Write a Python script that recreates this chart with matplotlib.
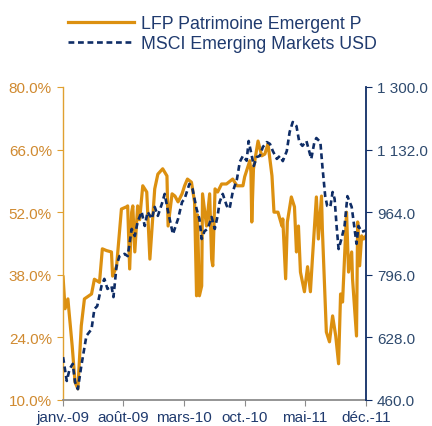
import matplotlib
matplotlib.use("Agg")
import matplotlib.pyplot as plt
import pandas as pd

plt.rcParams['font.family'] = ['Liberation Sans', 'DejaVu Sans']

# LFP Patrimoine Emergent P (left axis, %)
fund_dates = [
    "2009-01-01", "2009-01-08", "2009-01-18", "2009-01-21", "2009-02-02", "2009-02-12",
    "2009-02-22", "2009-03-06", "2009-03-17", "2009-04-11", "2009-04-21", "2009-05-09",
    "2009-05-19", "2009-06-03", "2009-06-20", "2009-06-24", "2009-07-08", "2009-07-25",
    "2009-08-12", "2009-08-16", "2009-08-23", "2009-08-30", "2009-09-03", "2009-09-10",
    "2009-09-20", "2009-09-27", "2009-10-08", "2009-10-22", "2009-11-02", "2009-11-19",
    "2009-11-30", "2009-12-17", "2010-01-01", "2010-01-05", "2010-01-19", "2010-01-29",
    "2010-02-09", "2010-02-23", "2010-03-04", "2010-03-14", "2010-03-28", "2010-04-08",
    "2010-04-15", "2010-04-18", "2010-04-25", "2010-05-03", "2010-05-06", "2010-05-20",
    "2010-05-31", "2010-06-07", "2010-06-11", "2010-06-19", "2010-06-28", "2010-07-12",
    "2010-07-29", "2010-08-20", "2010-09-04", "2010-09-25", "2010-10-01", "2010-10-19",
    "2010-10-23", "2010-10-26", "2010-11-01", "2010-11-17", "2010-11-30", "2010-12-11",
    "2010-12-22", "2011-01-05", "2011-01-12", "2011-01-26", "2011-02-09", "2011-02-12",
    "2011-02-22", "2011-02-28", "2011-03-14", "2011-03-25", "2011-04-01", "2011-04-08",
    "2011-04-15", "2011-04-29", "2011-05-10", "2011-05-20", "2011-05-27", "2011-06-10",
    "2011-06-17", "2011-06-28", "2011-07-01", "2011-07-15", "2011-07-26", "2011-08-06",
    "2011-08-17", "2011-08-27", "2011-09-03", "2011-09-10", "2011-09-24", "2011-10-01",
    "2011-10-12", "2011-10-15", "2011-10-29", "2011-11-02", "2011-11-09", "2011-11-16",
    "2011-11-23", "2011-12-01",
]
fund_values = [
    37.5, 30.4, 32.6, 30.4, 22.1, 14.0,
    12.5, 26.6, 32.6, 33.7, 37.0, 36.3,
    43.8, 43.4, 43.1, 37.7, 39.9, 52.7,
    53.2, 53.4, 39.3, 52.0, 53.4, 43.1,
    53.4, 50.3, 57.9, 56.5, 41.5, 57.2,
    60.5, 61.7, 60.1, 48.9, 56.1, 55.6,
    54.3, 56.1, 57.9, 59.4, 58.7, 54.3,
    33.3, 51.4, 33.3, 35.5, 56.1, 48.9,
    56.1, 41.5, 40.0, 57.2, 56.5, 58.3,
    58.3, 59.4, 57.9, 57.9, 59.9, 63.5,
    61.0, 49.8, 61.7, 67.9, 64.6, 65.0,
    67.3, 60.1, 52.0, 52.0, 48.9, 50.5,
    37.1, 49.8, 55.4, 53.2, 43.1, 48.9,
    38.6, 34.2, 39.8, 34.2, 41.5, 55.4,
    46.0, 55.6, 48.2, 25.2, 23.0, 28.8,
    24.3, 18.1, 33.7, 31.9, 52.0, 38.6,
    43.1, 37.1, 24.3, 49.8, 40.0, 46.7,
    46.0, 46.7,
]

# MSCI Emerging Markets USD (right axis)
index_dates = [
    "2009-01-01", "2009-01-14", "2009-01-24", "2009-02-04", "2009-02-12", "2009-02-22",
    "2009-03-06", "2009-03-24", "2009-04-11", "2009-04-21", "2009-05-01", "2009-05-16",
    "2009-05-26", "2009-06-06", "2009-06-20", "2009-06-27", "2009-07-08", "2009-07-18",
    "2009-08-05", "2009-08-16", "2009-08-30", "2009-09-10", "2009-09-20", "2009-10-04",
    "2009-10-15", "2009-10-25", "2009-11-09", "2009-11-19", "2009-11-30", "2009-12-14",
    "2009-12-24", "2010-01-05", "2010-01-22", "2010-02-09", "2010-02-23", "2010-03-04",
    "2010-03-21", "2010-04-01", "2010-04-15", "2010-04-25", "2010-05-03", "2010-05-13",
    "2010-05-24", "2010-06-07", "2010-06-18", "2010-06-28", "2010-07-05", "2010-07-16",
    "2010-07-30", "2010-08-09", "2010-08-20", "2010-09-04", "2010-09-14", "2010-09-25",
    "2010-10-08", "2010-10-15", "2010-10-26", "2010-11-02", "2010-11-13", "2010-11-23",
    "2010-12-04", "2010-12-18", "2010-12-29", "2011-01-08", "2011-01-22", "2011-02-02",
    "2011-02-12", "2011-02-26", "2011-03-08", "2011-03-19", "2011-04-01", "2011-04-11",
    "2011-04-22", "2011-05-06", "2011-05-23", "2011-06-03", "2011-06-10", "2011-06-24",
    "2011-07-01", "2011-07-11", "2011-07-18", "2011-07-29", "2011-08-06", "2011-08-13",
    "2011-08-20", "2011-08-27", "2011-09-06", "2011-09-17", "2011-09-27", "2011-10-12",
    "2011-10-19", "2011-10-29", "2011-11-05", "2011-11-16", "2011-12-01",
]
index_values = [
    575, 511, 543, 557, 508, 489,
    551, 632, 650, 704, 712, 766,
    785, 758, 766, 736, 820, 846,
    852, 846, 919, 900, 938, 965,
    927, 965, 946, 978, 954, 986,
    1013, 965, 905, 946, 991, 1000,
    1040, 1026, 973, 946, 892, 913,
    919, 951, 919, 954, 991, 1013,
    981, 973, 1018, 1053, 1099, 1115,
    1102, 1155, 1115, 1088, 1112, 1115,
    1139, 1152, 1147, 1128, 1107, 1115,
    1101, 1128, 1179, 1206, 1195, 1152,
    1142, 1155, 1107, 1152, 1163, 1152,
    1088, 1007, 981, 978, 1018, 1000,
    927, 865, 892, 927, 1007, 978,
    938, 879, 927, 911, 915,
]

x_ticks = ["2009-01-01", "2009-08-01", "2010-03-01", "2010-10-01", "2011-05-01", "2011-12-01"]
x_labels = ["janv.-09", "août-09", "mars-10", "oct.-10", "mai-11", "déc.-11"]
left_ticks = [10, 24, 38, 52, 66, 80]
right_ticks = [460, 628, 796, 964, 1132, 1300]

ORANGE = "#DC9010"
NAVY = "#0F2D66"
TEXT_NAVY = "#1F3A6E"

fig = plt.figure(figsize=(4.32, 4.27), dpi=100)
ax = fig.add_axes([0.146, 0.061, 0.701, 0.733])
ax2 = ax.twinx()

l1, = ax.plot(pd.to_datetime(fund_dates), fund_values, color=ORANGE, linewidth=2.3,
              label="LFP Patrimoine Emergent P")
l2, = ax2.plot(pd.to_datetime(index_dates), index_values, color=NAVY, linewidth=1.9,
               linestyle=(0, (2.2, 1.4)), label="MSCI Emerging Markets USD")

ax.set_xlim(pd.Timestamp("2009-01-01"), pd.Timestamp("2011-12-01"))
ax.set_ylim(10, 80)
ax2.set_ylim(460, 1300)

ax.set_xticks(pd.to_datetime(x_ticks))
ax.set_xticklabels(x_labels, color=TEXT_NAVY, fontsize=11)
ax.set_yticks(left_ticks)
ax.set_yticklabels([f"{v:.1f}%" for v in left_ticks], color="#D08A30", fontsize=11)
ax2.set_yticks(right_ticks)
ax2.set_yticklabels([f"{v:,.1f}".replace(",", " ") for v in right_ticks],
                    color="#2E4A6E", fontsize=11)

for a in (ax, ax2):
    a.spines['top'].set_visible(False)
ax.spines['right'].set_visible(False)
ax2.spines['left'].set_visible(False)
ax2.spines['bottom'].set_visible(False)
ax.spines['left'].set_color("#E0A030")
ax.spines['bottom'].set_color("#8C8C8C")
ax2.spines['right'].set_color(NAVY)
ax.spines['left'].set_linewidth(1.0)
ax2.spines['right'].set_linewidth(1.3)
ax.spines['bottom'].set_linewidth(1.3)

ax.tick_params(axis='y', direction='out', length=4, color="#E0A030", pad=4)
ax.tick_params(axis='x', direction='out', length=4, color="#8C8C8C", pad=3)
ax2.tick_params(axis='y', direction='out', length=4, color=NAVY, pad=4)

leg = fig.legend(handles=[l1, l2], loc='upper left', bbox_to_anchor=(0.158, 0.962),
                 frameon=False, fontsize=12.8, handlelength=3.7, handletextpad=0.4,
                 labelspacing=0.15, borderpad=0.0, borderaxespad=0.0)
for t in leg.get_texts():
    t.set_color(TEXT_NAVY)

fig.savefig("out.png", dpi=100)
